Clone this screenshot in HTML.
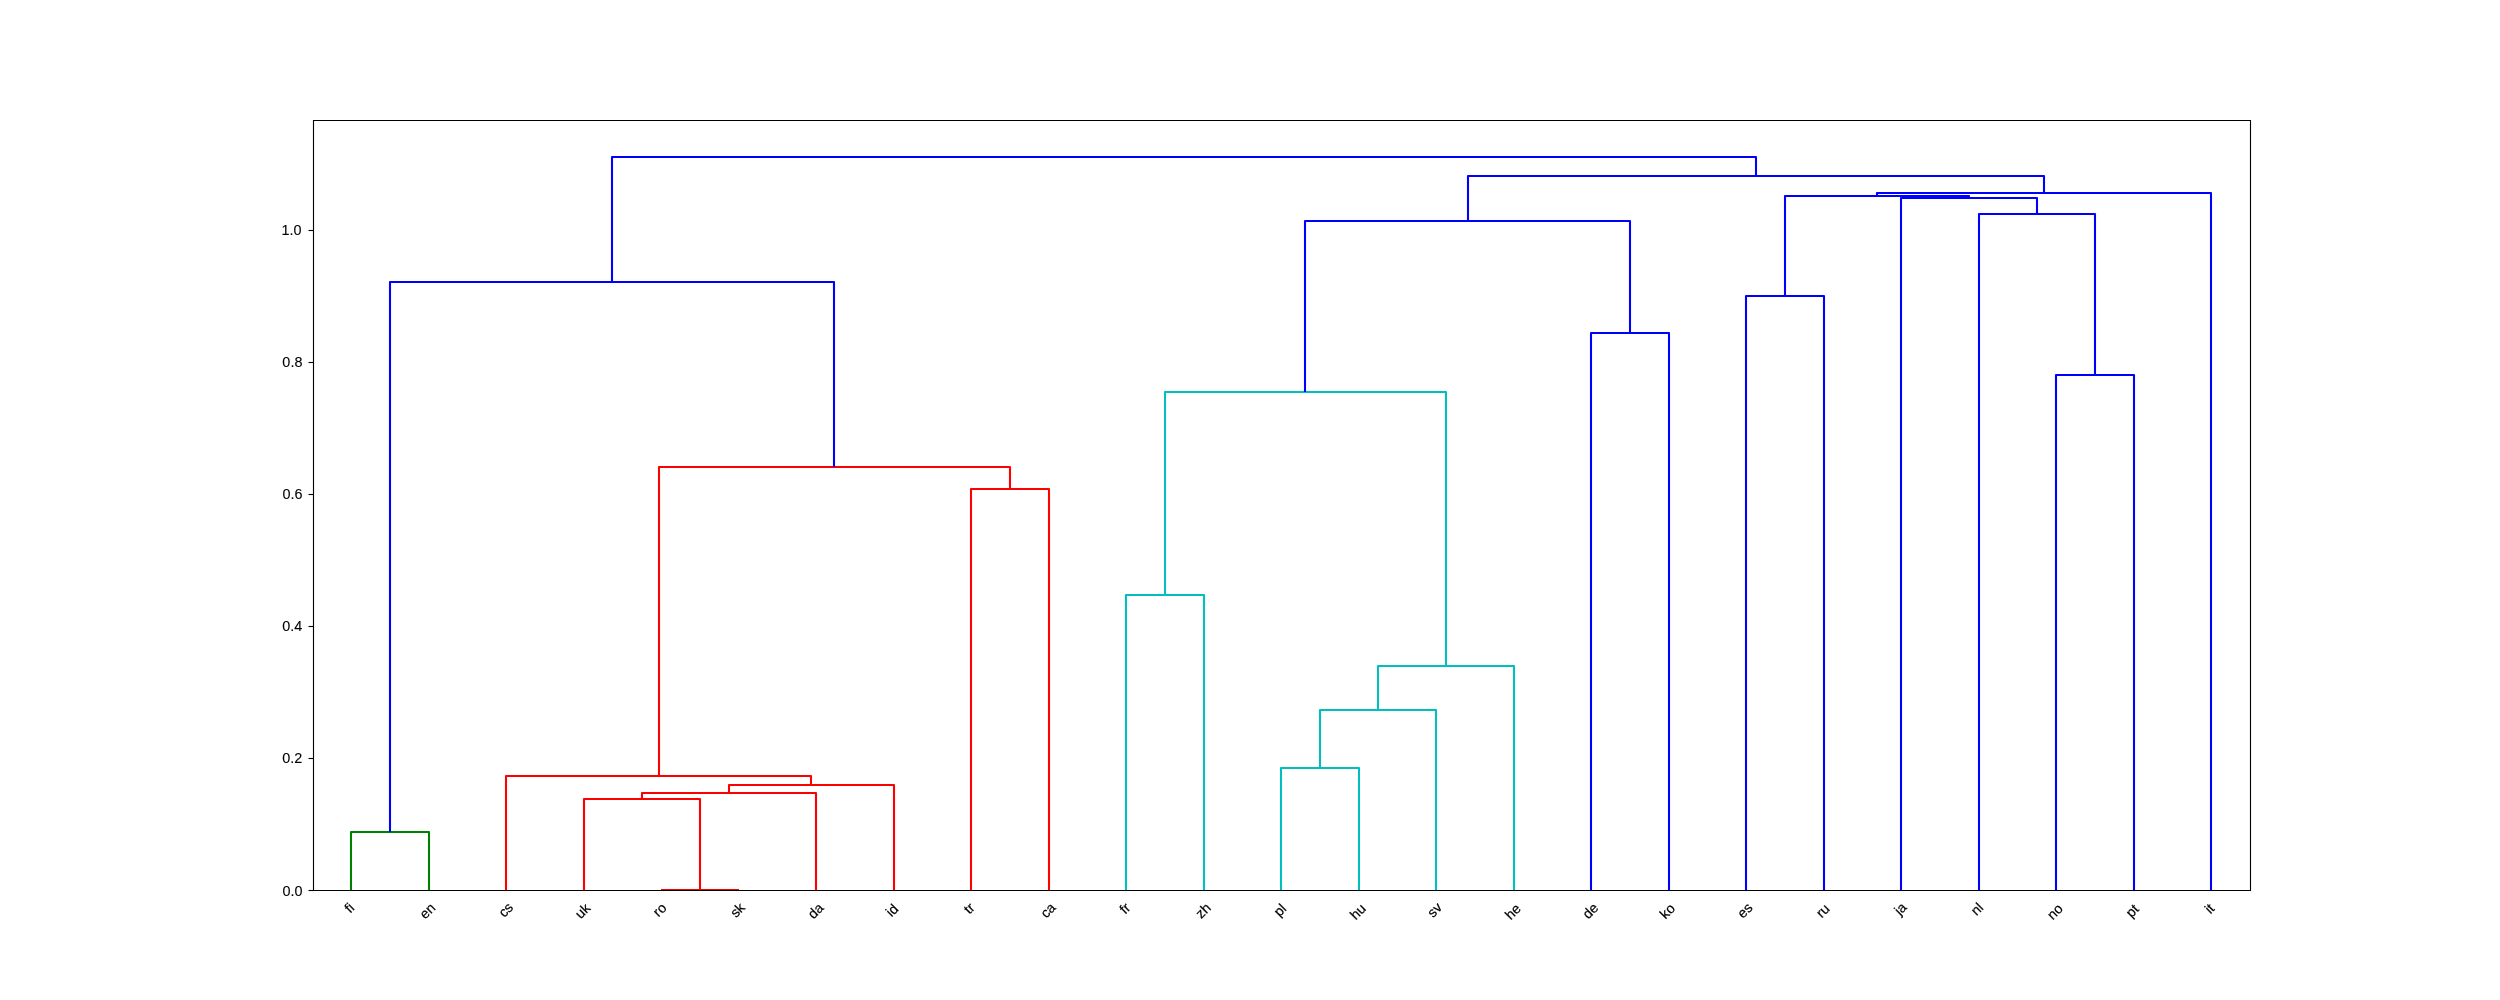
<!DOCTYPE html>
<html><head><meta charset="utf-8"><title>Dendrogram</title>
<style>
html,body{margin:0;padding:0;background:#fff;width:2500px;height:1000px;overflow:hidden}
svg{display:block}
text{font-family:"Liberation Sans",sans-serif;font-variant-ligatures:none;fill:#000}
</style></head><body>
<svg width="2500" height="1000" viewBox="0 0 2500 1000">
<defs><filter id="gray" x="-5%" y="-5%" width="110%" height="110%"><feOffset dx="0" dy="0"/></filter></defs>
<rect x="0" y="0" width="2500" height="1000" fill="#fff"/>
<g fill="none" stroke-width="2.08" stroke-linejoin="round" stroke-linecap="butt">
<path stroke="#008000" d="M351 890V832H429V890"/>
<path stroke="#ff0000" d="M661 890H739M584 890V799H700V890M642 799V793H816V890M729 793V785H894V890M506 890V776H811V785M971 890V489H1049V890M659 776V467H1010V489"/>
<path stroke="#00bfbf" d="M1126 890V595H1204V890M1281 890V768H1359V890M1320 768V710H1436V890M1378 710V666H1514V890M1165 595V392H1446V666"/>
<path stroke="#0000ff" d="M390 832V282H834V467M1591 890V333H1669V890M1305 392V221H1630V333M1746 890V296H1824V890M2056 890V375H2134V890M1979 890V214H2095V375M1901 890V198H2037V214M1785 296V196H1969V198M1877 196V193H2211V890M1468 221V176H2044V193M612 282V157H1756V176"/>
</g>
<g fill="none" stroke="#000" stroke-width="1.11" stroke-linecap="square" stroke-linejoin="miter">
<path d="M313.5 120.5H2250.5V890.5H313.5Z"/>
</g>
<g fill="none" stroke="#000" stroke-width="1.11">
<path d="M308.5 890.5H313.5"/>
<path d="M308.5 758.5H313.5"/>
<path d="M308.5 626.5H313.5"/>
<path d="M308.5 494.5H313.5"/>
<path d="M308.5 362.5H313.5"/>
<path d="M308.5 230.5H313.5"/>
</g>
<g filter="url(#gray)" stroke="#000" stroke-width="0.1">
<text x="0" y="0" font-size="14.0" text-anchor="end" transform="translate(302.57 895.56) scale(1.03 1)">0.0</text>
<text x="0" y="0" font-size="14.0" text-anchor="end" transform="translate(302.34 762.60) scale(1.03 1)">0.2</text>
<text x="0" y="0" font-size="14.0" text-anchor="end" transform="translate(302.33 630.57) scale(1.03 1)">0.4</text>
<text x="0" y="0" font-size="14.0" text-anchor="end" transform="translate(302.57 498.63) scale(1.03 1)">0.6</text>
<text x="0" y="0" font-size="14.0" text-anchor="end" transform="translate(302.40 366.55) scale(1.03 1)">0.8</text>
<text x="0" y="0" font-size="14.0" text-anchor="end" transform="translate(301.61 234.53) scale(1.03 1)">1.0</text>
</g>
<g filter="url(#gray)" stroke="#000" stroke-width="0.2">
<text x="0" y="0" font-size="14.0" text-anchor="middle" transform="translate(352.78 911.38) rotate(-45) scale(1.0 1)">fi</text>
<text x="0" y="0" font-size="14.0" text-anchor="middle" transform="translate(430.83 914.31) rotate(-45) scale(1.0 1)">en</text>
<text x="0" y="0" font-size="14.0" text-anchor="middle" transform="translate(509.12 913.16) rotate(-45) scale(1.0 1)">cs</text>
<text x="0" y="0" font-size="14.0" text-anchor="middle" transform="translate(585.89 914.18) rotate(-45) scale(1.0 1)">uk</text>
<text x="0" y="0" font-size="14.0" text-anchor="middle" transform="translate(662.98 913.18) rotate(-45) scale(1.0 1)">ro</text>
<text x="0" y="0" font-size="14.0" text-anchor="middle" transform="translate(740.84 913.40) rotate(-45) scale(1.0 1)">sk</text>
<text x="0" y="0" font-size="14.0" text-anchor="middle" transform="translate(819.08 914.14) rotate(-45) scale(1.0 1)">da</text>
<text x="0" y="0" font-size="14.0" text-anchor="middle" transform="translate(895.45 913.76) rotate(-45) scale(1.0 1)">id</text>
<text x="0" y="0" font-size="14.0" text-anchor="middle" transform="translate(972.54 911.71) rotate(-45) scale(1.0 1)">tr</text>
<text x="0" y="0" font-size="14.0" text-anchor="middle" transform="translate(1051.38 913.61) rotate(-45) scale(1.0 1)">ca</text>
<text x="0" y="0" font-size="14.0" text-anchor="middle" transform="translate(1128.28 911.70) rotate(-45) scale(1.0 1)">fr</text>
<text x="0" y="0" font-size="14.0" text-anchor="middle" transform="translate(1206.51 913.92) rotate(-45) scale(1.0 1)">zh</text>
<text x="0" y="0" font-size="14.0" text-anchor="middle" transform="translate(1283.45 913.36) rotate(-45) scale(1.0 1)">pl</text>
<text x="0" y="0" font-size="14.0" text-anchor="middle" transform="translate(1361.21 915.05) rotate(-45) scale(1.0 1)">hu</text>
<text x="0" y="0" font-size="14.0" text-anchor="middle" transform="translate(1437.99 913.37) rotate(-45) scale(1.0 1)">sv</text>
<text x="0" y="0" font-size="14.0" text-anchor="middle" transform="translate(1516.15 914.88) rotate(-45) scale(1.0 1)">he</text>
<text x="0" y="0" font-size="14.0" text-anchor="middle" transform="translate(1593.75 914.33) rotate(-45) scale(1.0 1)">de</text>
<text x="0" y="0" font-size="14.0" text-anchor="middle" transform="translate(1670.85 914.49) rotate(-45) scale(1.0 1)">ko</text>
<text x="0" y="0" font-size="14.0" text-anchor="middle" transform="translate(1748.34 913.86) rotate(-45) scale(1.0 1)">es</text>
<text x="0" y="0" font-size="14.0" text-anchor="middle" transform="translate(1826.10 914.04) rotate(-45) scale(1.0 1)">ru</text>
<text x="0" y="0" font-size="14.0" text-anchor="middle" transform="translate(1903.77 912.10) rotate(-45) scale(1.0 1)">ja</text>
<text x="0" y="0" font-size="14.0" text-anchor="middle" transform="translate(1980.36 912.28) rotate(-45) scale(1.0 1)">nl</text>
<text x="0" y="0" font-size="14.0" text-anchor="middle" transform="translate(2058.32 915.07) rotate(-45) scale(1.0 1)">no</text>
<text x="0" y="0" font-size="14.0" text-anchor="middle" transform="translate(2135.75 914.19) rotate(-45) scale(1.0 1)">pt</text>
<text x="0" y="0" font-size="14.0" text-anchor="middle" transform="translate(2212.87 912.09) rotate(-45) scale(1.0 1)">it</text>
</g>
</svg>
</body></html>
